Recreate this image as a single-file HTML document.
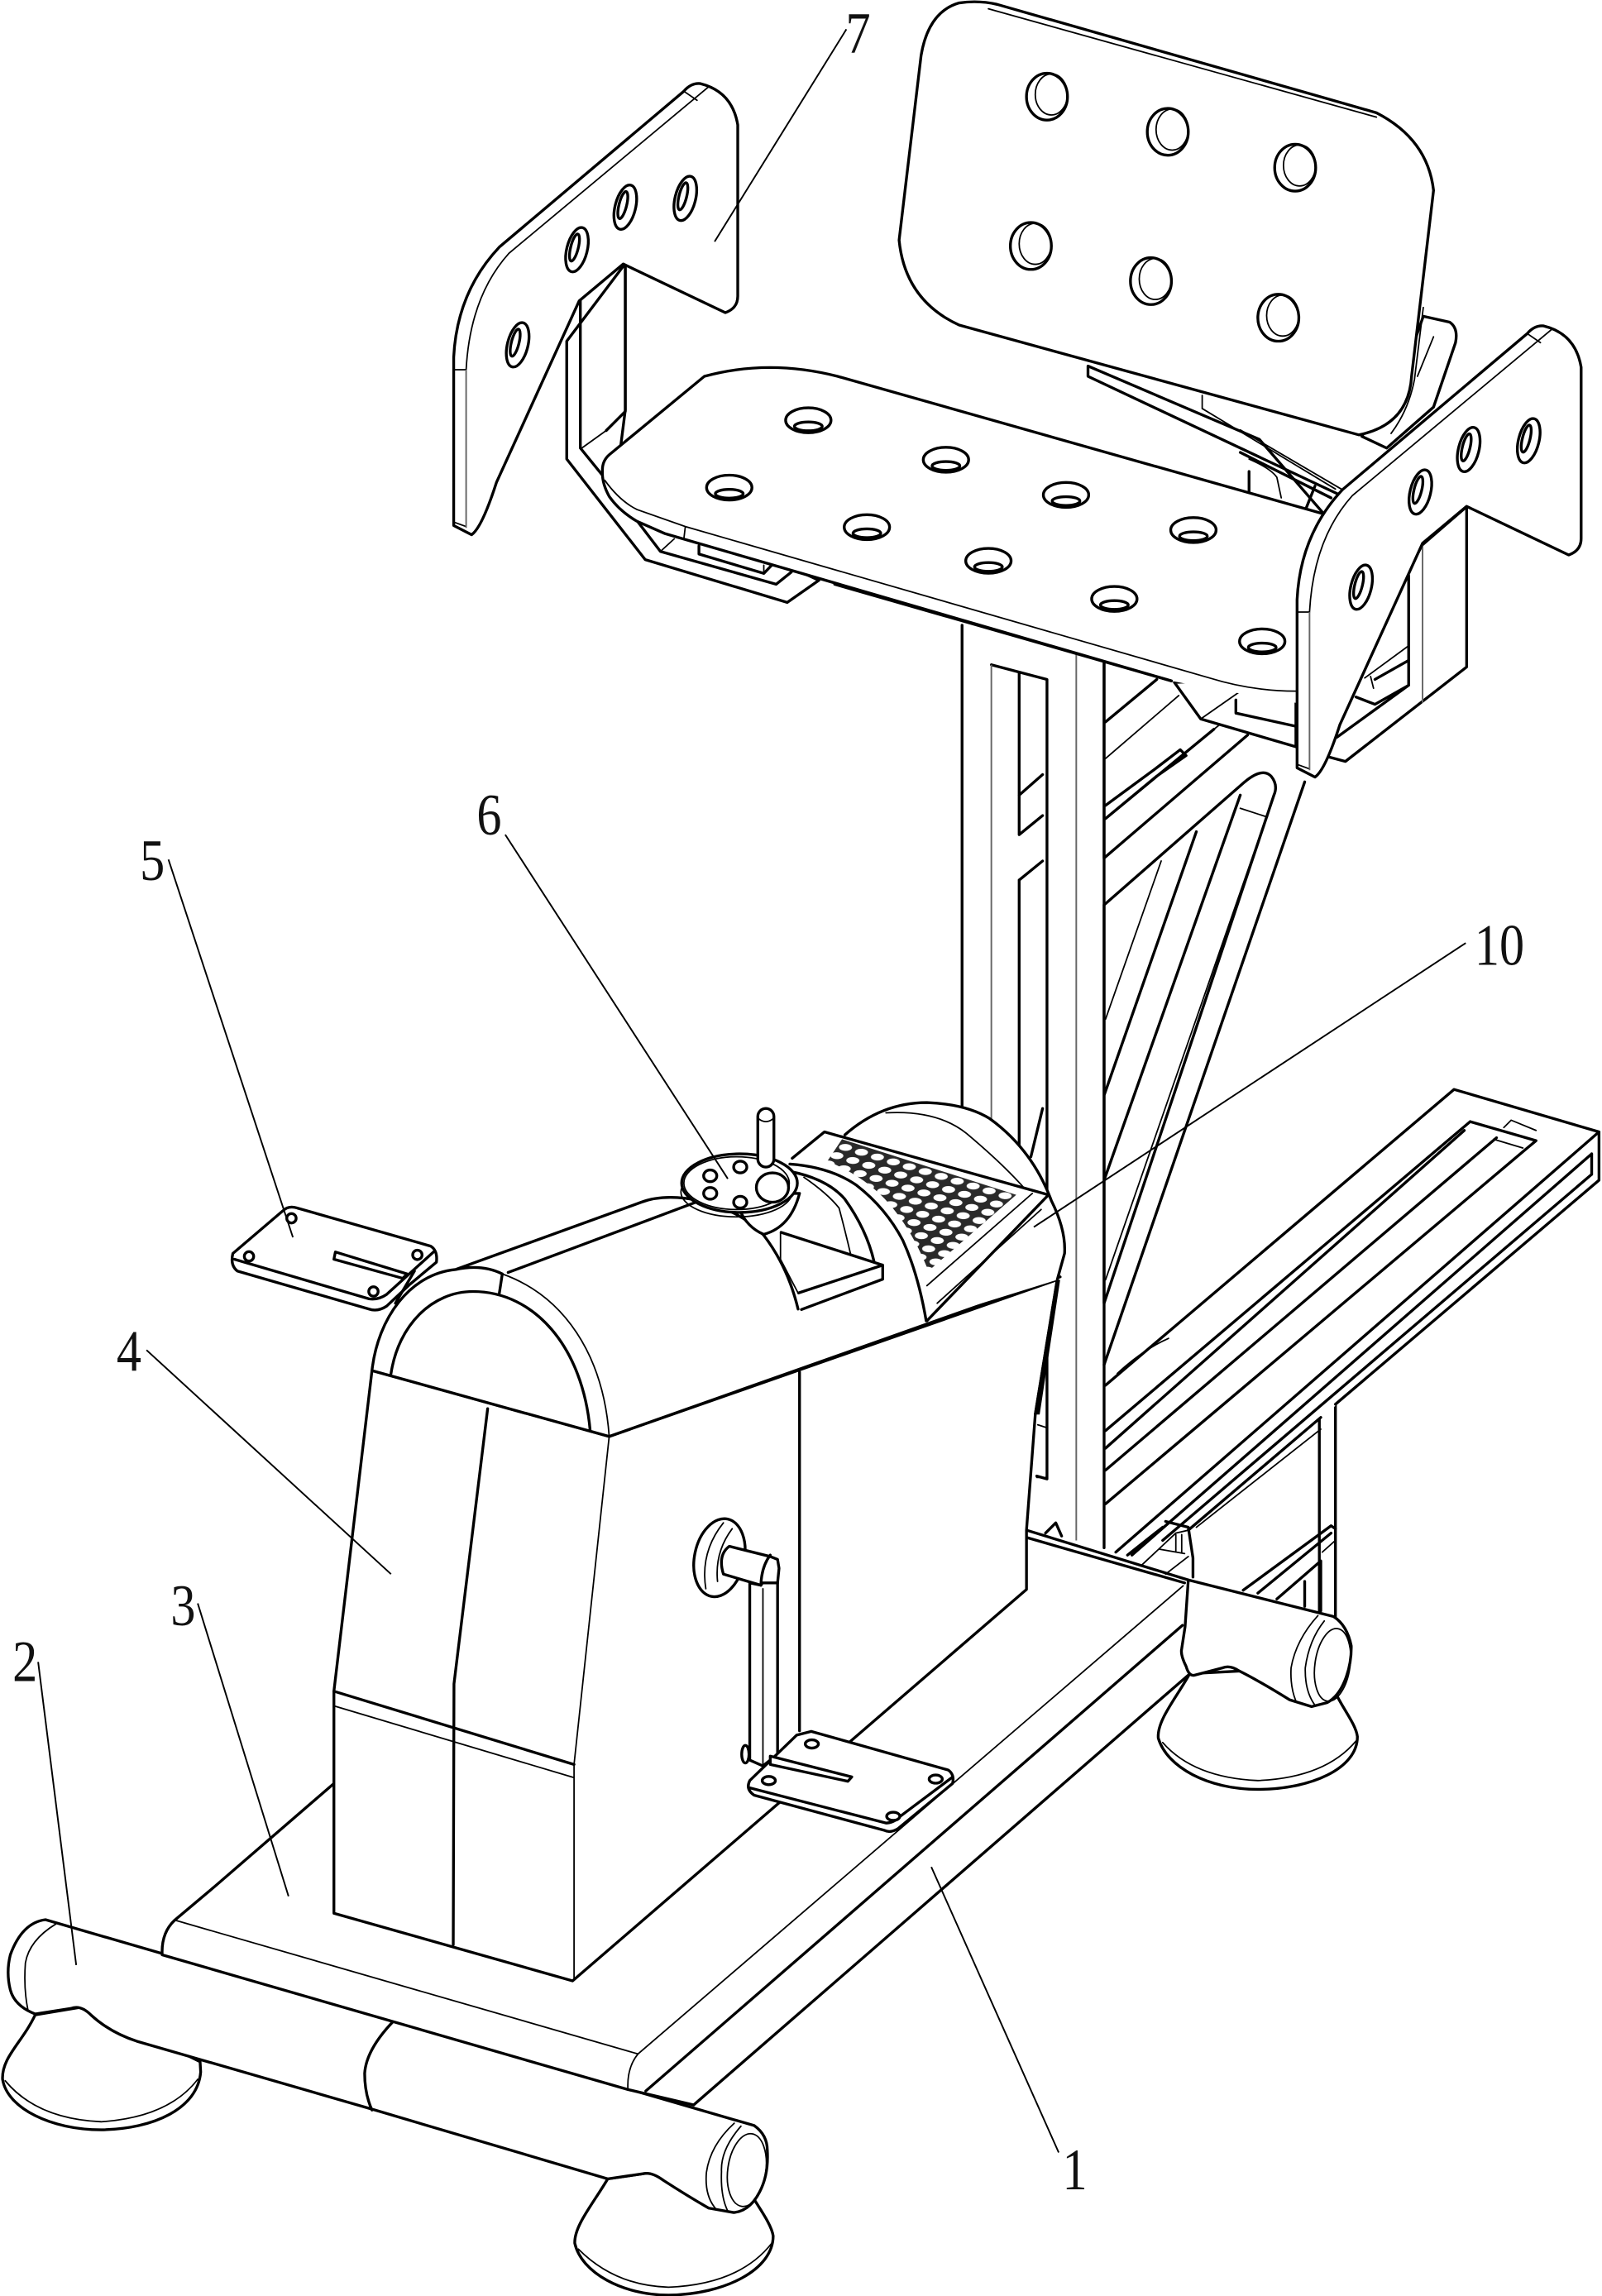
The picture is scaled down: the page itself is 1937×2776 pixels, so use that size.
<!DOCTYPE html>
<html><head><meta charset="utf-8"><style>
html,body{margin:0;padding:0;background:#fff}
svg{display:block}
.m{fill:none;stroke:#000;stroke-width:1.9;stroke-linejoin:round;stroke-linecap:round}
.w{fill:#fff;stroke:#000;stroke-width:1.9;stroke-linejoin:round;stroke-linecap:round}
.n{fill:#fff;stroke:none}
.t{fill:none;stroke:#000;stroke-width:1;stroke-linecap:round}
.g{fill:none;stroke:#666;stroke-width:1.1}
.l{fill:none;stroke:#000;stroke-width:1.1}
text{font-family:"Liberation Serif",serif;font-size:40px;fill:#111;text-anchor:middle}
</style></head><body>
<svg width="1937" height="2776" viewBox="0 0 1094 1568" xmlns="http://www.w3.org/2000/svg">
<defs>
<pattern id="d" patternUnits="userSpaceOnUse" width="1" height="1" patternTransform="matrix(10.9 3.3 -5.9 5.65 575 779)">
<rect width="1" height="1" fill="#2a2a2a"/>
<ellipse cx=".5" cy=".52" rx=".36" ry=".36" fill="#fff"/>
</pattern>
<g id="wing">
<path class="w" d="M885.8 524.4L898 530.7Q905 526 915 495L971.5 371L1001.6 345.8L1071.3 379Q1079.8 376 1079.8 367.8V250.8Q1076 228 1054.3 222.6Q1048 222 1043 227.8L916.9 334.3Q888 365 885.8 409.5Z"/>
<path class="t" d="M1060 224.7L923.5 338.5Q897 368 894.3 418M885.8 418H894.3M885.8 522L894 525M1043 227.8L1052 234"/>
<path class="g" d="M894.3 418V526"/>
<g transform="rotate(14 929.5 401)"><ellipse class="w" cx="929.5" cy="401" rx="7" ry="15.5"/><ellipse class="m" cx="927.5" cy="400" rx="2.6" ry="9.5"/></g>
<g transform="rotate(14 970 336)"><ellipse class="w" cx="970" cy="336" rx="7" ry="15.5"/><ellipse class="m" cx="968" cy="335" rx="2.6" ry="9.5"/></g>
<g transform="rotate(14 1003 307)"><ellipse class="w" cx="1003" cy="307" rx="7" ry="15.5"/><ellipse class="m" cx="1001" cy="306" rx="2.6" ry="9.5"/></g>
<g transform="rotate(14 1044 301)"><ellipse class="w" cx="1044" cy="301" rx="7" ry="15.5"/><ellipse class="m" cx="1042" cy="300" rx="2.6" ry="9.5"/></g>
</g>
<g id="bh"><ellipse class="w" cx="0" cy="0" rx="14" ry="16"/><ellipse class="t" cx="3" cy="-1.5" rx="11" ry="14"/></g>
<g id="sh"><ellipse class="w" cx="0" cy="0" rx="15.5" ry="8.5"/><ellipse class="m" cx="0" cy="4.2" rx="9.5" ry="3"/></g>
</defs>
<rect width="1094" height="1568" fill="#fff"/>

<!-- rear leg and brace -->
<path class="m" d="M901 950V1103M912 945V1104"/>
<path class="m" d="M849 1086L909 1042L912 1044M859 1088L909 1047M872 1092L902 1066V1100M891 1080V1097"/>
<path class="t" d="M903 1060L912 1052"/>

<!-- rail -->
<path class="n" d="M993 744L1092 773V806L912 960L811 1045L755 1058V946Z"/>
<path class="m" d="M755 946L993 744L1092 773V806L912 959M902 968L811.5 1045M1004 766L1049 779L1043 784M1004 766L755 977M1000 772L755 989M1022 777L755 1004M1043 784L755 1027M1092 773L762 1060M1087 788V802M1087 788L773 1062M1087 802L794 1052"/>
<path class="t" d="M1027 770L1032 765L1049 772M1020 778L1040 784M902 976L817 1043"/>
<path class="t" d="M763 938Q780 922 798 914"/>

<!-- hinge behind back plate -->
<path class="w" d="M972 216L990 220Q996 224 994 234L979 278L947 306L930 298L960 250Z"/>
<path class="t" d="M968 257L979 230"/>

<!-- column -->
<path class="n" d="M657 427V810H701V1045L754 1058V932L891 534L884 510L820 480L754 450L735 445Z"/>
<path class="m" d="M754 453V586L852 502M754 618L850 534Q862 524 868 530Q873 536 870 543L754 890V618M891 534L754 932M847 543L754 806M817 568L754 748"/>
<path class="t" d="M793 588L755 696M865.5 556L755 874M847 552L865.5 558M755 518L805 475"/>
<path class="m" d="M755 493L790 464M755 550L789 525L806 512L810 516L790 530L755 559L829 498"/>
<path class="t" d="M829 498L852 480"/>
<path class="g" d="M735 447V1052"/>
<path class="m" d="M754 450V1057M677 454L715 464V1010L708 1008M696 460V570L712 557M696 543L712 529M696 601L712 588M696 601V805M657 427V790"/>
<path class="g" d="M677 454V780"/>
<path class="m" d="M704 790L712 757"/>

<!-- right bracket -->
<path class="w" d="M971.5 372L1001.6 346V455.5L918.8 520L907.5 517L900 500Z"/>
<path class="m" d="M962 393V468L913 503.5M962 451L939 464M926 476L939 481L962 468"/>
<path class="t" d="M962 441L932 463M936 462L938 470"/>
<path class="g" d="M971.5 372V480"/>
<path class="w" d="M802 466L820 491L885 510V470L830 465Z"/>
<path class="m" d="M844 478V487L885 496"/>
<path class="t" d="M820 491L850 470"/>

<!-- left bracket -->
<path class="w" d="M387 233V313.5L440.6 382.2L537.6 411.4L559.2 396.3L480 360L420 335L427 280V180Z"/>
<path class="m" d="M427 180V281L414 294M396.3 205V306L412.3 325.7"/>
<path class="t" d="M397.3 306L414 294"/>
<path class="m" d="M435.9 356.8L451 376.6L530 399L540.4 390.7M477.3 372.8V378.4L521.6 391.6L527 386"/>
<path class="t" d="M451 376.6L460.4 368M521.6 386V391.6"/>

<!-- hinge under back -->
<path class="w" d="M743 250V257L915 338L905 352L860 300Z"/>
<path class="t" d="M821 270V279L912 334M847 293.6L916 334"/>
<path class="m" d="M847 309L909 340M853 322V336M898 332L892 347"/>
<path class="t" d="M853 313.5Q868 320 872 326L875 340"/>

<!-- back plate -->
<path class="w" d="M629 38Q634 8 655 2Q668 0 681 3L940 77Q975 95 979 130L964 257Q962 290 928 297L655 222Q618 205 614 164Z"/>
<path class="t" d="M675 6L940 80M972 210L966 259Q962 280 950 296"/>
<use href="#bh" x="715" y="66"/><use href="#bh" x="797.5" y="90"/><use href="#bh" x="884.5" y="114.5"/>
<use href="#bh" x="704" y="168"/><use href="#bh" x="786" y="192"/><use href="#bh" x="873" y="217"/>

<!-- seat -->
<path class="n" d="M411 322Q411 315 416 310.6L481 257Q525 245 572 257L904 351L885 480L826 470L800 465L454 364.3L435 356Q423 349 416 339Z"/>
<path class="m" d="M904 351L572 257Q525 245 481 257L416 310.6Q411 315 411.4 322Q411 330 416 339Q423 349 435 356L453.8 364.3L800 465"/>
<path class="t" d="M413 328Q423 342 435 348L468 359.6L826 463Q855 472 885 472M468 359.6L467 368"/>
<path class="m" d="M570 399L800 465"/>
<use href="#sh" x="552" y="287"/><use href="#sh" x="646" y="314"/><use href="#sh" x="728" y="338"/><use href="#sh" x="815" y="362"/>
<use href="#sh" x="498" y="333"/><use href="#sh" x="592" y="360"/><use href="#sh" x="675" y="383"/><use href="#sh" x="761" y="409"/><use href="#sh" x="862" y="438"/>

<!-- wings -->
<use href="#wing" transform="translate(-576 -165.5)"/>
<use href="#wing"/>

<!-- left foot and right foot of front bar -->
<path class="w" d="M24 1376C15 1395 1 1405 1.7 1420C5 1440 35 1454.5 69 1454.5C105 1454 135 1440 137 1415L136.6 1408L60 1370Z"/>
<path class="t" d="M3.5 1421Q25 1447 69 1449Q115 1446 135 1420"/>
<path class="w" d="M415 1488C405 1505 392 1520 392.5 1532C397 1552 425 1567.4 456.5 1567.4C495 1567 528 1550 528 1527C527 1520 520 1510 515 1502L470 1480Z"/>
<path class="t" d="M395 1536Q420 1561 456.5 1562Q505 1560 527 1532"/>

<!-- front bar -->
<path class="w" d="M31 1311L515 1451.6Q524 1458 524 1468.6Q525 1485 518.7 1497Q512 1510 501 1511L484 1508Q470 1500 453 1489Q445 1483 439 1484.5L415 1488L256 1441L93.4 1394Q75 1388 62 1376Q55 1369 48.4 1371.6L24 1375.4Q10 1370 7 1359Q4 1347 7 1335Q15 1313 31 1311Z"/>
<path class="t" d="M38 1314Q20 1325 17.3 1340.5Q16 1358 19 1372.5"/>
<path class="m" d="M268 1381Q250 1400 249 1416Q249 1430 254 1441"/>
<path class="t" d="M501.4 1450Q485 1465 482.4 1483.6Q481 1500 489.3 1509M506 1452Q492 1468 492.7 1483Q492 1500 497 1510"/>
<ellipse class="t" cx="510" cy="1482" rx="13" ry="25" transform="rotate(8 510 1482)"/>

<!-- base -->
<path class="n" d="M147 1288L228 1218L701 1045L811 1079L812 1144L473.7 1437.5L428.8 1427L110.7 1335V1322Z"/>
<path class="m" d="M228 1218L147 1288L119.3 1311.3Q110 1320 110.7 1335L428.8 1427L473.7 1437.5"/>
<path class="t" d="M119.3 1311.3L435.7 1402.7Q428 1412 428.8 1427M435.7 1402.7L808 1083"/>
<path class="m" d="M441 1428L807.5 1110M473.7 1437.5L811.5 1144M701 1045L811.5 1079M701 1050L809 1081"/>
<path class="m" d="M714 1047L721 1040L725 1049M796 1039L811.5 1043L814.7 1064V1077"/>
<path class="m" d="M770 1062L794 1043"/>
<path class="t" d="M779 1069.5L803 1047L811.5 1045M796 1075L811.5 1063M803 1048V1060M807 1048V1060M792 1058L809 1061"/>

<!-- rear right foot -->
<path class="w" d="M812.5 1143C803 1160 790 1175 791 1187C797 1207 825 1222 859 1222C895 1222 927 1208 927 1186C926 1178 918 1168 913 1158L870 1140Z"/>
<path class="t" d="M794 1190Q815 1214 859 1216Q905 1214 926 1189"/>
<path class="w" d="M811.5 1079L910.8 1104Q920 1110 922.8 1124Q923 1135 919.5 1144.8Q915 1158 906.5 1162.7L895.7 1165.5L880.6 1160.8Q860 1148 846 1141Q840 1137 835 1139L815.8 1144Q812 1145 810 1138Q806 1130 807 1126L809.3 1111Z"/>
<path class="t" d="M900 1103.4Q885 1120 881.7 1139Q881 1152 885 1161.7M904.4 1107Q894 1120 891.4 1139Q891 1155 898 1164.5"/>
<ellipse class="t" cx="910" cy="1137" rx="12" ry="25" transform="rotate(8 910 1137)"/>

<!-- box -->
<path class="w" d="M254 936L228 1155V1306.6L391 1352.8L701 1085.5V1045L707 966L722 874L416 981Z"/>
<path class="m" d="M333 962L310 1150L309.5 1328M228 1155L392 1205"/>
<path class="t" d="M228 1165L392 1214M392 1205V1352M392 1205L416 981"/>
<path class="m" d="M546 937V1182"/>
<path d="M721 874L724 874L710 966L706 966Z" fill="#000"/>
<path class="t" d="M708.7 973L714.8 975V1009L708 1009"/>

<!-- hump -->
<path class="n" d="M254 936C258 900 280 870 311 867L438 821Q454 813 478 820L540 800L724 872L416 981Z"/>
<path class="m" d="M254 936C258 900 280 870 311 867C325 864 335 866 343 870M267 938C272 905 295 882 323 882C365 882 398 920 403 977M343 870L341 883M311 867L438 821Q454 815 478 820L347 869M254 936L416 981L724 872"/>
<path class="t" d="M343 870C385 885 412 925 416 981"/>
<path class="m" d="M478 821Q505 826 521.5 843.5Q538 865 545 894"/>
<path class="n" d="M533 842L603 864V874L547 894L545 883Z"/>
<path class="m" d="M533.4 841.6L602.8 864V873.6L547.3 894.3M545.3 883L602.8 864"/>
<path class="t" d="M533 842V862M533 860L545 883"/>

<!-- roller and panel -->
<path class="n" d="M577 775Q602 753 633 753Q660 754 676 764Q705 785 718 820L727 856L722 874L632 902Q625 860 610 830L563 773Z"/>
<path class="m" d="M577 775Q602 753 633 753Q660 754 676 764Q705 785 718 820Q728 840 727 856L722 874"/>
<path class="t" d="M605 760Q640 758 660 774Q685 795 700 812"/>
<path class="m" d="M541 791L563 773L716 816L633 902"/>
<path d="M575 778L694 816L634 868Q625 845 612 828Q595 805 565 793Z" fill="url(#d)"/>
<path class="m" d="M539.4 795Q567 797 585 809.5Q605 825 616.6 847.2Q627 870 632.5 902"/>
<path class="m" d="M539.4 800Q565 805 577 819Q592 840 597 862"/>
<path class="t" d="M549 804Q565 815 573 825Q577 840 581 857"/>
<path class="t" d="M640 890L711 826M633 878L705 815"/>

<!-- knob -->
<path class="w" d="M505 826Q510 838 521.5 843Q540 838 546 815L510 815Z"/>
<ellipse class="t" cx="503" cy="814" rx="38" ry="17"/>
<ellipse class="w" cx="505" cy="808" rx="39.5" ry="20"/>
<ellipse class="t" cx="503" cy="808" rx="36" ry="18"/>
<rect class="w" x="517.5" y="757" width="11" height="40" rx="5.5"/>
<path class="t" d="M518 764Q523 768 528 764"/>
<ellipse class="w" cx="527.5" cy="811" rx="11" ry="10"/>
<ellipse class="w" cx="485" cy="803" rx="4.5" ry="4"/><ellipse class="w" cx="505.5" cy="797" rx="4.5" ry="4"/><ellipse class="w" cx="485" cy="815" rx="4.5" ry="4"/><ellipse class="w" cx="505.5" cy="821" rx="4.5" ry="4"/>

<!-- plate 5 -->
<path class="w" d="M193 827Q197 823 203 825L294 851Q299 854 298 862L280 877L264 892Q258 896 252 894L162 868Q157 864 159 856Z"/>
<path class="m" d="M160 860L252 887Q258 888 264 884L296 855M283 868L270 890"/>
<path class="w" d="M229 855L278 870L275 873L228 860Z"/>
<circle class="w" cx="199" cy="832" r="3.2"/><circle class="w" cx="170" cy="858" r="3.2"/><circle class="w" cx="285" cy="857" r="3.2"/><circle class="w" cx="255" cy="882" r="3.2"/>

<!-- crank -->
<path class="w" d="M512 1081V1202L521 1206L531 1198V1066L519.6 1082.6Z"/>
<path class="t" d="M521 1085V1205"/>
<ellipse class="w" cx="491.3" cy="1063.8" rx="17" ry="27" transform="rotate(12 491.3 1063.8)"/>
<path class="t" d="M494 1040Q478 1060 482 1085M500 1044Q488 1060 490 1080"/>
<path class="w" d="M498 1056L526 1063L531 1065L532 1071L531 1081H520L519.6 1082.6L494 1075Q490 1062 498 1056Z"/>
<path class="m" d="M526 1062Q520 1070 519.6 1082.6"/>
<ellipse class="w" cx="509" cy="1198" rx="2.5" ry="6"/>

<!-- lower plate -->
<path class="w" d="M544 1185L554 1182.4L647.6 1208.8Q652 1212 650.5 1218L613 1249Q608 1252 604 1250L515 1226Q509 1222 512 1216Z"/>
<path class="m" d="M512 1221L605 1245Q610 1245 614 1241L650 1214"/>
<path class="w" d="M526 1199.3L581.7 1213.5L579 1216.5L526 1205Z"/>
<ellipse class="w" cx="554.4" cy="1191" rx="4.5" ry="2.8"/><ellipse class="w" cx="525" cy="1216" rx="4.5" ry="2.8"/><ellipse class="w" cx="639" cy="1215" rx="4.5" ry="2.8"/><ellipse class="w" cx="610" cy="1240.4" rx="4.5" ry="2.8"/>

<!-- leaders -->
<path class="l" d="M578 20L488 165M345 570L497 805M115 587L200 845M1001 644L706 838M100 922L267 1075M135 1095L197 1295M26 1135L52 1342M723 1470L636 1275"/>
<text transform="translate(586 36) scale(.85 1)">7</text>
<text transform="translate(334 570) scale(.85 1)">6</text>
<text transform="translate(104 601) scale(.85 1)">5</text>
<text transform="translate(1024 659) scale(.85 1)">10</text>
<text transform="translate(88 936) scale(.85 1)">4</text>
<text transform="translate(125 1110) scale(.85 1)">3</text>
<text transform="translate(17 1148) scale(.85 1)">2</text>
<text transform="translate(734 1495) scale(.85 1)">1</text>
</svg>
</body></html>
